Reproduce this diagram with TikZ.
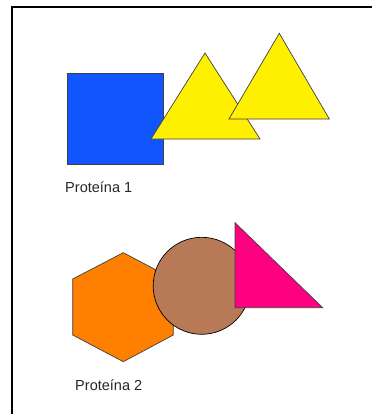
\documentclass[tikz,border=0pt]{standalone}
\usepackage{fontspec}
\setmainfont{Liberation Sans}
\usepackage{tikz}
\usetikzlibrary{positioning}
\usepackage{xcolor}
\definecolor{sqblue}{HTML}{1155FF}
\definecolor{triyellow}{HTML}{FFF000}
\definecolor{hexorange}{HTML}{FF8000}
\definecolor{ballbrown}{HTML}{B87A56}
\definecolor{wedgepink}{HTML}{FF0080}
\definecolor{edge}{HTML}{404040}

\begin{document}
\begin{tikzpicture}[x=0.03cm,y=-0.03cm, blob/.style={draw=edge,line width=0.6pt,line join=miter}, lab/.style={font=\fontsize{12.4}{14}\selectfont,color=black!85,inner sep=0pt,anchor=base west}]
  \useasboundingbox (0,0) rectangle (372,414);
  % frame
  \draw[line width=1.1pt] (12,414)--(12,7)--(372,7);
  % protein 1
  \filldraw[blob,fill=sqblue] (67,73) rectangle (163,164);
  \filldraw[blob,fill=triyellow] (151,139)--(205,53)--(260,139)--cycle;
  \filldraw[blob,fill=triyellow] (229,119)--(279.3,33.3)--(329.3,119)--cycle;
  \node[lab] (p1) at (65,192.3) {Proteína 1};
  % protein 2
  \filldraw[blob,fill=hexorange] (123.3,252.7)--(173.3,279)--(173.3,335)--(123.3,361.7)--(72.7,335)--(72.7,279)--cycle;
  \filldraw[blob,draw=black,fill=ballbrown] (201.7,285.8) circle (48.5);
  \filldraw[blob,fill=wedgepink] (235,222.7)--(235,307.7)--(322.7,307.7)--cycle;
  \node[lab] (p2) at (75,390) {Proteína 2};
\end{tikzpicture}
\end{document}
